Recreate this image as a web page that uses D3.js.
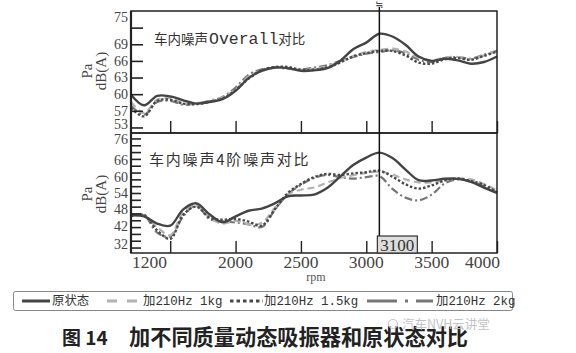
<!DOCTYPE html>
<html>
<head>
<meta charset="utf-8">
<script src="https://cdn.jsdelivr.net/npm/d3@7"></script>
<style>
  body { margin: 0; background: #fff; }
  svg { display: block; }
</style>
</head>
<body>
<div id="chart-area"></div>
<script>
// DATA
const rpm = [1200,1300,1400,1500,1600,1700,1800,1900,2000,2100,2200,2300,2400,2500,2600,
             2700,2800,2900,3000,3100,3200,3300,3400,3500,3600,3700,3800,3900,4000]

const seriesNames = ["原状态", "加210Hz 1kg", "加210Hz 1.5kg", "加210Hz 2kg"]

// overall level, dB(A)
const overallBase = [59.9,58.0,59.7,59.6,58.9,58.3,58.6,59.1,60.6,62.9,64.2,64.8,64.7,64.2,64.3,
                     64.7,66.0,68.1,69.3,70.9,70.4,68.9,66.8,66.0,66.4,66.1,65.5,65.8,66.8]
const overall1kg  = [58.6,56.6,59.0,59.3,58.4,58.4,58.7,59.4,60.9,63.2,64.3,64.8,64.7,64.4,64.6,
                     65.0,65.9,66.9,67.6,68.0,68.2,67.7,66.6,66.1,66.6,66.7,66.3,67.0,67.9]
const overall15kg = [57.5,56.0,58.8,59.0,58.3,58.2,58.6,59.2,60.7,62.8,64.3,64.9,64.9,64.4,64.4,
                     64.8,65.7,66.8,67.4,67.8,67.8,67.0,65.7,65.5,66.3,66.5,66.2,66.9,67.7]
const overall2kg  = [57.9,56.3,58.6,58.8,58.1,58.3,58.8,59.5,61.2,63.5,64.5,64.8,64.6,64.5,64.8,
                     65.2,66.0,66.7,67.3,67.6,67.9,67.4,66.2,65.8,66.5,66.7,66.4,67.1,67.8]

// 4th order level, dB(A)
const orderBase = [45.8,45.4,42.8,42.0,48.0,50.2,46.2,43.3,45.4,47.5,48.3,50.2,52.8,53.1,53.4,
                   55.8,60.0,64.3,67.0,68.8,66.8,62.6,58.7,58.6,59.2,59.2,58.1,56.0,54.0]
const order1kg  = [46.4,45.5,41.5,38.5,47.0,49.3,45.0,42.8,43.8,42.6,43.0,48.5,53.5,55.2,56.0,
                   57.8,59.5,60.5,61.4,61.8,60.8,59.0,57.9,57.9,58.6,59.3,59.0,57.3,55.0]
const order15kg = [45.5,46.0,40.3,37.2,46.0,49.0,45.0,44.2,44.5,43.5,42.0,48.0,54.0,57.3,59.8,
                   61.0,60.6,61.2,61.6,62.2,60.0,57.2,55.6,56.8,58.6,59.3,58.4,57.0,54.2]
const order2kg  = [45.8,45.8,39.5,38.0,45.5,49.5,44.5,43.6,43.2,42.5,41.5,47.8,53.5,57.0,59.5,
                   60.6,59.8,59.3,59.8,60.2,55.5,52.3,51.3,53.4,57.5,59.0,58.2,56.5,54.2]

// axes
const xTicks = [1500, 2000, 2500, 3000, 3500, 4000]
const xLabels = [1200, 2000, 2500, 3000, 3500, 4000]
const cursorRpm = 3100

const overallTicks = [54, 57, 60, 63, 66, 69, 72]
const overallLabels = [53, 57, 60, 63, 66, 69, 75]
const orderTicks = [34, 36.5, 39, 41.5, 44, 46.5, 49, 51.5, 54, 56.5, 59, 61.5, 64, 66.5, 69, 71.5, 74]
const orderLabels = [32, 42, 48, 54, 60, 66, 76]

// STYLES
const styles = [
  { color: "#444", width: 2.4, dash: null,       legendDash: null },
  { color: "#b2b2b2", width: 2.2, dash: "7,4",   legendDash: "10,10" },
  { color: "#4a4a4a", width: 2.4, dash: "2.5,2", legendDash: "3.5,3" },
  { color: "#777", width: 2.2, dash: "8,3,2,3",  legendDash: "30,8,3,8" }
]

const W = 576, H = 353
const LEFT = 131, RIGHT = 497
const SERIF = '"Liberation Serif", "DejaVu Serif", serif'
const CJK = '"Noto Sans CJK SC", sans-serif'
const MONO = '"Liberation Mono", "Noto Sans CJK SC", monospace'

const svg = d3.select("#chart-area").append("svg")
  .attr("width", W)
  .attr("height", H)
svg.append("rect").attr("width", W).attr("height", H).attr("fill", "#fff")

const x = d3.scaleLinear()
  .domain([rpm[0], rpm[rpm.length - 1]])
  .range([LEFT, RIGHT])

const panels = [
  { top: 11, bottom: 133, domain: [53, 75], ticks: overallTicks, labels: overallLabels, tickLen: 12,
    series: [overallBase, overall1kg, overall15kg, overall2kg] },
  { top: 133, bottom: 253, domain: [32, 76], ticks: orderTicks, labels: orderLabels, tickLen: 10,
    series: [orderBase, order1kg, order15kg, order2kg] }
]

panels.forEach((p, pi) => {
  const y = d3.scaleLinear().domain(p.domain).range([p.bottom, p.top])
  const g = svg.append("g")

  // lines
  const line = d3.line()
    .x((d, i) => x(rpm[i]))
    .y(d => y(d))
    .curve(d3.curveCatmullRom.alpha(0.5))

  const order = [3, 1, 2, 0]
  order.forEach(si => {
    g.append("path")
      .datum(p.series[si])
      .attr("d", line)
      .attr("fill", "none")
      .attr("stroke", styles[si].color)
      .attr("stroke-width", styles[si].width)
      .attr("stroke-dasharray", styles[si].dash)
      .attr("stroke-linejoin", "round")
  })

  // y ticks (inward)
  const yAxis = g.append("g")
    .attr("transform", `translate(${LEFT},0)`)
    .call(d3.axisLeft(y).tickValues(p.ticks).tickSize(-p.tickLen).tickFormat(""))
  yAxis.select(".domain").remove()
  yAxis.selectAll("line").attr("stroke", "#222").attr("stroke-width", 1.6)

  // y labels, end labels pulled inside the panel
  g.selectAll(".ylab")
    .data(p.labels)
    .enter().append("text")
      .attr("class", "ylab")
      .attr("x", LEFT - 3)
      .attr("y", d => Math.max(p.top + 6, Math.min(p.bottom - 8.5, y(d))))
      .attr("dy", "0.35em")
      .attr("text-anchor", "end")
      .attr("font-family", SERIF)
      .attr("font-size", "14px")
      .attr("fill", "#444")
      .text(d => d)

  // x ticks (inward, pointing up)
  const xAxis = g.append("g")
    .attr("transform", `translate(0,${p.bottom})`)
    .call(d3.axisBottom(x).tickValues(xTicks).tickSize(-12).tickFormat(""))
  xAxis.select(".domain").remove()
  xAxis.selectAll("line").attr("stroke", "#222").attr("stroke-width", 1.4)

  // frame
  g.append("rect")
    .attr("x", LEFT).attr("y", p.top)
    .attr("width", RIGHT - LEFT).attr("height", p.bottom - p.top)
    .attr("fill", "none").attr("stroke", "#222").attr("stroke-width", 1.5)
  g.append("line")
    .attr("x1", LEFT).attr("x2", LEFT).attr("y1", p.top).attr("y2", p.bottom)
    .attr("stroke", "#222").attr("stroke-width", 2.2)

  // y axis title
  const cy = pi === 0 ? 71 : 194
  g.append("text")
    .attr("transform", `translate(92,${cy}) rotate(-90)`)
    .attr("text-anchor", "middle")
    .attr("font-family", SERIF).attr("font-size", "15px").attr("fill", "#444")
    .text("Pa")
  g.append("text")
    .attr("transform", `translate(106,${cy}) rotate(-90)`)
    .attr("text-anchor", "middle")
    .attr("font-family", SERIF).attr("font-size", "15px").attr("fill", "#444")
    .text("dB(A)")
})

// panel titles
const t1 = svg.append("text")
  .attr("x", 154).attr("y", 44)
  .attr("font-family", CJK).attr("font-size", "13.5px").attr("fill", "#333")
t1.append("tspan").text("车内噪声")
t1.append("tspan").attr("font-family", MONO).attr("font-size", "16.5px").attr("dx", 1).text("Overall")
t1.append("tspan").text("对比")

svg.append("text")
  .attr("x", 149).attr("y", 165)
  .attr("font-family", CJK).attr("font-size", "15px").attr("fill", "#333")
  .attr("letter-spacing", "1.8px")
  .text("车内噪声4阶噪声对比")

// x labels (bottom panel)
svg.selectAll(".xlab")
  .data(xLabels)
  .enter().append("text")
    .attr("class", "xlab")
    .attr("x", d => d === x.domain()[0] ? LEFT + 1 : d === x.domain()[1] ? RIGHT + 3 : x(d))
    .attr("y", 268)
    .attr("text-anchor", d => d === x.domain()[0] ? "start" : d === x.domain()[1] ? "end" : "middle")
    .attr("font-family", SERIF).attr("font-size", "17.5px").attr("fill", "#444")
    .text(d => d)

svg.append("text")
  .attr("x", 316).attr("y", 281)
  .attr("text-anchor", "middle")
  .attr("font-family", SERIF).attr("font-size", "12px").attr("fill", "#555")
  .text("rpm")

// cursor
const cx = x(cursorRpm)
svg.append("line")
  .attr("x1", cx).attr("x2", cx).attr("y1", 7).attr("y2", 253)
  .attr("stroke", "#111").attr("stroke-width", 1.5)
svg.append("text")
  .attr("x", cx).attr("y", 8)
  .attr("text-anchor", "middle")
  .attr("font-family", '"DejaVu Sans", sans-serif').attr("font-size", "10px").attr("fill", "#222")
  .text("≒")
svg.append("rect")
  .attr("x", cx - 2).attr("y", 236).attr("width", 40).attr("height", 17)
  .attr("fill", "#ddd").attr("stroke", "#333").attr("stroke-width", 1.2)
svg.append("text")
  .attr("x", cx + 18).attr("y", 250.5)
  .attr("text-anchor", "middle")
  .attr("font-family", SERIF).attr("font-size", "17px").attr("fill", "#333")
  .text(cursorRpm)

// LEGEND
const legendLayout = [
  { x0: 22, x1: 50, tx: 52 },
  { x0: 107, x1: 140, tx: 143 },
  { x0: 230, x1: 263, tx: 264 },
  { x0: 367, x1: 433, tx: 436 }
]
svg.append("rect")
  .attr("x", 13.5).attr("y", 291.5).attr("width", 499).attr("height", 19)
  .attr("rx", 2)
  .attr("fill", "#fff").attr("stroke", "#888").attr("stroke-width", 1)

const legend = svg.selectAll(".leg")
  .data(seriesNames)
  .enter().append("g")
    .attr("class", "leg")
legend.append("line")
  .attr("x1", (d, i) => legendLayout[i].x0)
  .attr("x2", (d, i) => legendLayout[i].x1)
  .attr("y1", 301).attr("y2", 301)
  .attr("stroke", (d, i) => styles[i].color)
  .attr("stroke-width", 3)
  .attr("stroke-dasharray", (d, i) => styles[i].legendDash)
legend.append("text")
  .attr("x", (d, i) => legendLayout[i].tx)
  .attr("y", 301)
  .attr("dy", "0.35em")
  .attr("font-family", MONO).attr("font-size", "12.4px").attr("fill", "#333")
  .text(d => d)

// caption
svg.append("text")
  .attr("x", 62).attr("y", 345)
  .attr("font-family", CJK).attr("font-size", "19px").attr("font-weight", "bold").attr("fill", "#222")
  .text("图 14")
svg.append("text")
  .attr("x", 129).attr("y", 345)
  .attr("font-family", CJK).attr("font-size", "21.2px").attr("font-weight", "bold").attr("fill", "#222")
  .text("加不同质量动态吸振器和原状态对比")

// watermark (sits over the caption, as in the source image)
svg.append("circle").attr("cx", 393).attr("cy", 324).attr("r", 4.5)
  .attr("fill", "none").attr("stroke", "#c8c8c8").attr("stroke-width", 1.2)
svg.append("text")
  .attr("x", 402).attr("y", 329)
  .attr("font-family", CJK).attr("font-size", "12.5px").attr("fill", "#bdbdbd")
  .attr("opacity", 0.9)
  .text("汽车NVH云讲堂")
</script>
</body>
</html>
